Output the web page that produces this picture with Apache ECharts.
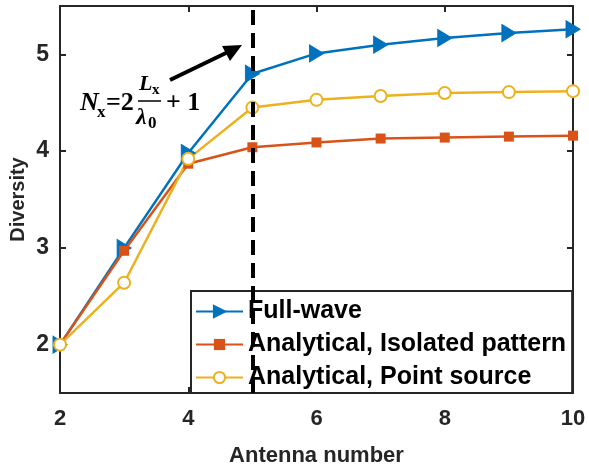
<!DOCTYPE html>
<html><head><meta charset="utf-8">
<script src="https://cdn.jsdelivr.net/npm/echarts@6/dist/echarts.min.js"></script>
<style>html,body{margin:0;padding:0;background:#fff}#c{width:589px;height:468px}</style>
</head><body><div id="c"></div>
<script>
const antennaNumbers = [2, 3, 4, 5, 6, 7, 8, 9, 10];
const fullWave = [2.0, 3.0, 3.98, 4.80, 5.01, 5.10, 5.17, 5.22, 5.26];
const isolatedPattern = [2.0, 2.97, 3.87, 4.04, 4.09, 4.13, 4.14, 4.15, 4.16];
const pointSource = [2.0, 2.64, 3.92, 4.45, 4.53, 4.57, 4.60, 4.61, 4.62];
const xTicks = [2, 4, 6, 8, 10];
const yTicks = [2, 3, 4, 5];
const markerX = 5;

const pair = (ys) => antennaNumbers.map((x, i) => [x, ys[i]]);
const axisColor = '#262626';
const font = 'Liberation Sans, Arial, sans-serif';
const serif = 'Liberation Serif, Times New Roman, serif';
const triRight = 'path://M0,0 L10,6 L0,12 Z';

const chart = echarts.init(document.getElementById('c'), null, {renderer: 'canvas'});
const xBase = {type: 'value', min: 2, max: 10, interval: 2,
  axisLine: {lineStyle: {color: axisColor, width: 2}},
  axisTick: {inside: true, length: 6, lineStyle: {color: axisColor, width: 2}},
  splitLine: {show: false}};
const yBase = {type: 'value', min: 1.5, max: 5.5,
  axisLine: {lineStyle: {color: axisColor, width: 2}},
  axisTick: {inside: true, length: 6, customValues: yTicks, lineStyle: {color: axisColor, width: 2}},
  splitLine: {show: false}};

chart.setOption({
  animation: false,
  grid: {left: 60, right: 16, top: 6, bottom: 75, containLabel: false, outerBoundsMode: 'none'},
  xAxis: [
    Object.assign({}, xBase, {position: 'bottom',
      name: 'Antenna number', nameLocation: 'middle', nameGap: 52,
      nameTextStyle: {fontFamily: font, fontWeight: 'bold', fontSize: 22, color: axisColor},
      axisLabel: {margin: 15, fontFamily: font, fontWeight: 'bold', fontSize: 22, color: axisColor}}),
    Object.assign({}, xBase, {position: 'top', axisLabel: {show: false}})
  ],
  yAxis: [
    Object.assign({}, yBase, {position: 'left',
      name: 'Diversity', nameLocation: 'middle', nameGap: 32, nameMoveOverlap: false,
      nameTextStyle: {fontFamily: font, fontWeight: 'bold', fontSize: 20, color: axisColor},
      axisLabel: {margin: 11, customValues: yTicks, fontFamily: font, fontWeight: 'bold', fontSize: 23, color: axisColor}}),
    Object.assign({}, yBase, {position: 'right', axisLabel: {show: false}})
  ],
  legend: {
    orient: 'vertical', left: 191, top: 291,
    padding: [8, 6, 3, 4], itemGap: 8, itemWidth: 47, itemHeight: 14,
    backgroundColor: '#fff', borderColor: axisColor, borderWidth: 2, borderRadius: 0,
    textStyle: {fontFamily: font, fontWeight: 'bold', fontSize: 25, color: '#000'},
    data: ['Full-wave', 'Analytical, Isolated pattern', 'Analytical, Point source']
  },
  series: [
    {name: 'Full-wave', type: 'line', data: pair(fullWave), color: '#0072BD',
     symbol: triRight, symbolSize: [14, 17], lineStyle: {width: 2.5},
     itemStyle: {color: '#0072BD', borderColor: '#0072BD', borderWidth: 1},
     markLine: {silent: true, symbol: 'none', label: {show: false},
       lineStyle: {type: [15, 8], color: '#000', width: 4},
       data: [{xAxis: markerX}]}},
    {name: 'Analytical, Isolated pattern', type: 'line', data: pair(isolatedPattern), color: '#D95319',
     symbol: 'rect', symbolSize: 10, lineStyle: {width: 2.5},
     itemStyle: {color: '#D95319'}},
    {name: 'Analytical, Point source', type: 'line', data: pair(pointSource), color: '#EDB120',
     symbol: 'emptyCircle', symbolSize: 12, lineStyle: {width: 2.5},
     itemStyle: {color: '#EDB120', borderWidth: 3}}
  ],
  graphic: [
    {type: 'line', shape: {x1: 170, y1: 80, x2: 228, y2: 52}, style: {stroke: '#000', lineWidth: 4}},
    {type: 'polygon', shape: {points: [[242, 45], [222, 46], [230, 61]]}, style: {fill: '#000'}},
    {type: 'text', x: 80, y: 90, style: {text: 'N', font: 'italic bold 26px ' + serif, fill: '#000'}},
    {type: 'text', x: 97, y: 104, style: {text: 'x', font: 'bold 17px ' + serif, fill: '#000'}},
    {type: 'text', x: 106, y: 90, style: {text: '=2', font: 'bold 26px ' + serif, fill: '#000'}},
    {type: 'text', x: 139, y: 73, style: {text: 'L', font: 'italic bold 22px ' + serif, fill: '#000'}},
    {type: 'text', x: 152, y: 83, style: {text: 'x', font: 'bold 15px ' + serif, fill: '#000'}},
    {type: 'line', shape: {x1: 138, y1: 101, x2: 161, y2: 101}, style: {stroke: '#000', lineWidth: 1.5}},
    {type: 'text', x: 136, y: 106, style: {text: 'λ', font: 'italic bold 24px ' + serif, fill: '#000'}},
    {type: 'text', x: 148, y: 115, style: {text: '0', font: 'bold 17px ' + serif, fill: '#000'}},
    {type: 'text', x: 166, y: 90, style: {text: '+ 1', font: 'bold 26px ' + serif, fill: '#000'}}
  ]
});
</script></body></html>
